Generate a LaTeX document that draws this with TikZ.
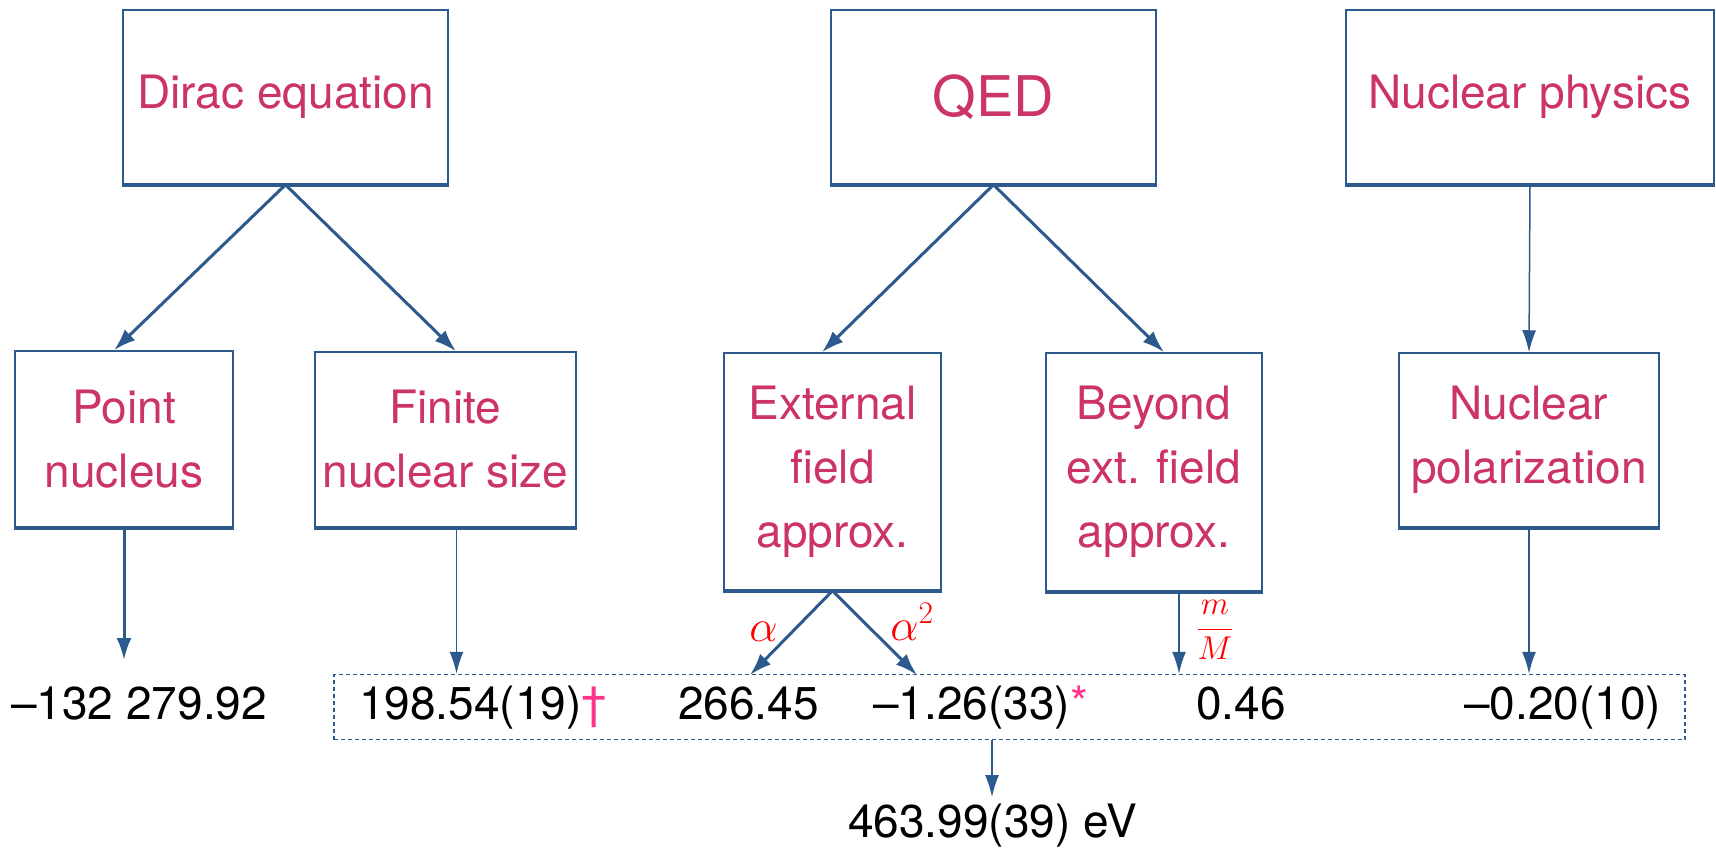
\RequirePackage{fix-cm}
\documentclass[tikz,border=0pt]{standalone}
\usepackage{fontspec}
\setmainfont{TeX Gyre Heros}
\usetikzlibrary{arrows.meta,calc}
\definecolor{boxblue}{RGB}{45,90,140}
\definecolor{labpink}{RGB}{204,51,102}
\definecolor{markpink}{RGB}{255,51,136}
\begin{document}
\begin{tikzpicture}[x=1pt,y=-1pt,
  box/.style={draw=boxblue, line width=1.5pt, fill=white, text=labpink, align=center,
    inner sep=0pt, font=\fontsize{46}{64}\selectfont},
  botedge/.style={draw=boxblue, line width=4pt},
  thickarr/.style={draw=boxblue, line width=3pt, -{Latex[length=22pt,width=15pt]}},
  thinarr/.style={draw=boxblue, line width=1.5pt, -{Latex[length=22pt,width=14pt]}},
  val/.style={anchor=base west, inner sep=0pt, font=\fontsize{46}{64}\selectfont},
  lab/.style={text=red, inner sep=0pt, font=\fontsize{45}{54}\selectfont}]
\useasboundingbox (0,0) rectangle (1716,847);

% top row
\node[box, minimum width=325pt, minimum height=174pt] (dirac) at (285.5,97) {Dirac equation};
\node[box, minimum width=325pt, minimum height=174pt, font=\fontsize{56}{64}\selectfont] (qed) at (993.5,97) {QED};
\node[box, minimum width=368pt, minimum height=174pt] (nphys) at (1530,97) {Nuclear physics};

% second row
\node[box, minimum width=218pt, minimum height=176pt] (point) at (124,439) {Point\\nucleus};
\node[box, minimum width=261pt, minimum height=175pt] (finite) at (445.5,439.5) {Finite\\nuclear size};
\node[box, minimum width=217pt, minimum height=237pt] (ext) at (832.5,471.5) {External\\field\\approx.};
\node[box, minimum width=216pt, minimum height=238pt] (beyond) at (1154,472) {Beyond\\ext. field\\approx.};
\node[box, minimum width=260pt, minimum height=174pt] (npol) at (1529,440) {Nuclear\\polarization};

\foreach \n in {dirac,qed,nphys,point,finite,ext,beyond,npol}
  \draw[botedge] (\n.south west) -- (\n.south east);

% sum box
\node[draw=boxblue, line width=1.5pt, dash pattern=on 4pt off 3pt,
  minimum width=1351pt, minimum height=65pt, inner sep=0pt] (sum) at (1009.5,707) {};

% values
\node[val] (v1) at (11,719) {\textendash132 279.92};
\node[val] (v2) at (359,719) {198.54(19)\textcolor{markpink}{\textdagger}};
\node[val] (v3) at (678,719) {266.45};
\node[val] (v4) at (873,719) {\textendash1.26(33)\textcolor{markpink}{*}};
\node[val] (v5) at (1196,719) {0.46};
\node[val] (v6) at (1464,719) {\textendash0.20(10)};
\node[val] (total) at (848,837) {463.99(39) eV};

% labels
\node[lab] (la) at (763.5,632) {$\alpha$};
\node[lab] (la2) at (912,622) {$\alpha^2$};
\node[lab, font=\fontsize{33}{40}\selectfont] (lm) at (1215,630) {$\displaystyle\frac{m}{M}$};

% arrows top -> second row
\draw[thickarr] (dirac.south) -- ([xshift=-10pt]point.north);
\draw[thickarr] (dirac.south) -- ([xshift=10.5pt]finite.north);
\draw[thickarr] (qed.south) -- ([xshift=-10.5pt]ext.north);
\draw[thickarr] (qed.south) -- ([xshift=10pt]beyond.north);
\draw[thinarr] (nphys.south) -- (npol.north);

% arrows second row -> values
\coordinate (ptend) at (124,660);
\draw[thickarr] (point.south) -- (ptend);
\coordinate (finout) at ([xshift=11pt]finite.south);
\draw[thinarr] (finout) -- (finout |- sum.north);
\coordinate (a1) at (750,675);
\coordinate (a2) at (917,675);
\draw[thickarr] (ext.south) -- (a1);
\draw[thickarr] (ext.south) -- (a2);
\coordinate (beyout) at ([xshift=25pt]beyond.south);
\draw[thinarr] (beyout) -- (beyout |- sum.north);
\draw[thinarr] (npol.south) -- (npol.south |- sum.north);

% sum -> total
\coordinate (sumout) at (992,739.5);
\coordinate (totin) at (992,797);
\draw[thinarr] (sumout) -- (totin);
\end{tikzpicture}
\end{document}
